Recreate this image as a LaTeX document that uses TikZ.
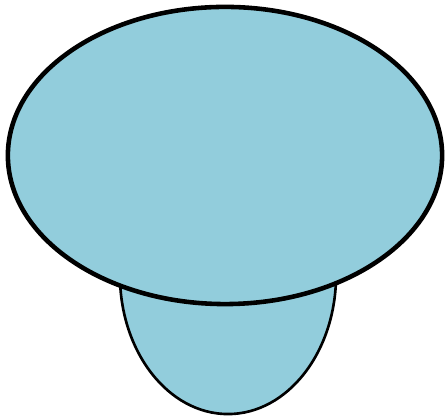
\documentclass[tikz,border=0pt]{standalone}
\usetikzlibrary{shapes.geometric}
\definecolor{capblue}{RGB}{146,205,220}

\begin{document}
\begin{tikzpicture}[
    x=0.01cm, y=-0.01cm,
    every node/.style={draw, ellipse, fill=capblue, inner sep=0pt}
]
\useasboundingbox (0,0) rectangle (445,419);

% lower part first, cap drawn over it
\node (stem) [line width=0.75pt, minimum width=2.16cm, minimum height=2.78cm] at (228,275) {};
\node (cap) [line width=1.3pt, minimum width=4.34cm, minimum height=2.97cm] at (225,155.5) {};

\end{tikzpicture}
\end{document}
